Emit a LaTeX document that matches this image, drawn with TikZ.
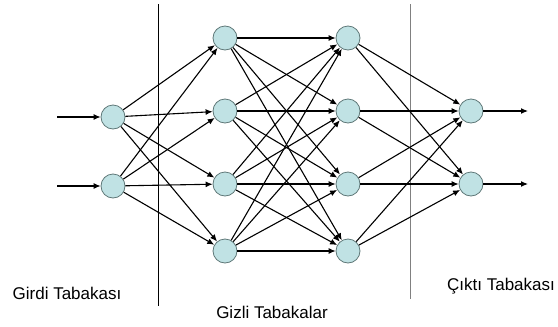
\documentclass[tikz,border=0pt]{standalone}
\usepackage{fontspec}
\setmainfont{Liberation Sans}
\usetikzlibrary{arrows.meta}

\definecolor{neuronfill}{RGB}{192,226,228}
\definecolor{neurondraw}{RGB}{95,120,120}

\begin{document}
\begin{tikzpicture}
        % One unit is one pixel of the original, y pointing down
        \tikzset{
            x={(1pt, 0pt)}, y={(0pt, -1pt)},
            neuron/.style={circle, draw=neurondraw, fill=neuronfill,
                line width=0.8pt, minimum size=24pt, inner sep=0pt},
            link/.style={line width=1.1pt, -{Latex[length=7pt, width=6pt]}},
            layername/.style={font=\fontsize{17}{20}\selectfont},
        }

        \useasboundingbox (0, 0) rectangle (558, 327);

        % Input layer
        \node[neuron] (I1) at (113, 117) {};
        \node[neuron] (I2) at (113, 186) {};
        % First hidden layer
        \node[neuron] (H1) at (225, 38) {};
        \node[neuron] (H2) at (225, 111) {};
        \node[neuron] (H3) at (225, 184) {};
        \node[neuron] (H4) at (225, 251) {};
        % Second hidden layer
        \node[neuron] (K1) at (348, 38) {};
        \node[neuron] (K2) at (348, 111) {};
        \node[neuron] (K3) at (348, 184) {};
        \node[neuron] (K4) at (348, 251) {};
        % Output layer
        \node[neuron] (O1) at (471, 111) {};
        \node[neuron] (O2) at (471, 184) {};

        % Free ends of the outer arrows
        \coordinate (X1) at (57, 117);
        \coordinate (X2) at (57, 186);
        \coordinate (Y1) at (528, 111);
        \coordinate (Y2) at (528, 184);

        % Separators between the layers
        \coordinate (S1) at (158, 4);
        \coordinate (S2) at (158, 306);
        \coordinate (T1) at (410, 4);
        \coordinate (T2) at (410, 299);
        \draw[line width=0.6pt] (S1) -- (S2);
        \draw[line width=0.6pt, gray] (T1) -- (T2);

        % Layer names
        \node[layername] (Lin) at (67, 293) {Girdi Tabakası};
        \node[layername] (Lhid) at (272, 312) {Gizli Tabakalar};
        \node[layername] (Lout) at (501, 286) {Çıktı Tabakası};

        % Connections
        \begin{scope}[link]
            \draw (X1) -- (I1);
            \draw (X2) -- (I2);
            \foreach \i in {1,2}
                \foreach \j in {1,...,4}
                    \draw (I\i) -- (H\j);
            \foreach \i in {1,...,4}
                \foreach \j in {1,...,4}
                    \draw (H\i) -- (K\j);
            \foreach \i in {1,...,4}
                \foreach \j in {1,2}
                    \draw (K\i) -- (O\j);
            \draw (O1) -- (Y1);
            \draw (O2) -- (Y2);
        \end{scope}

        \end{tikzpicture}
\end{document}
